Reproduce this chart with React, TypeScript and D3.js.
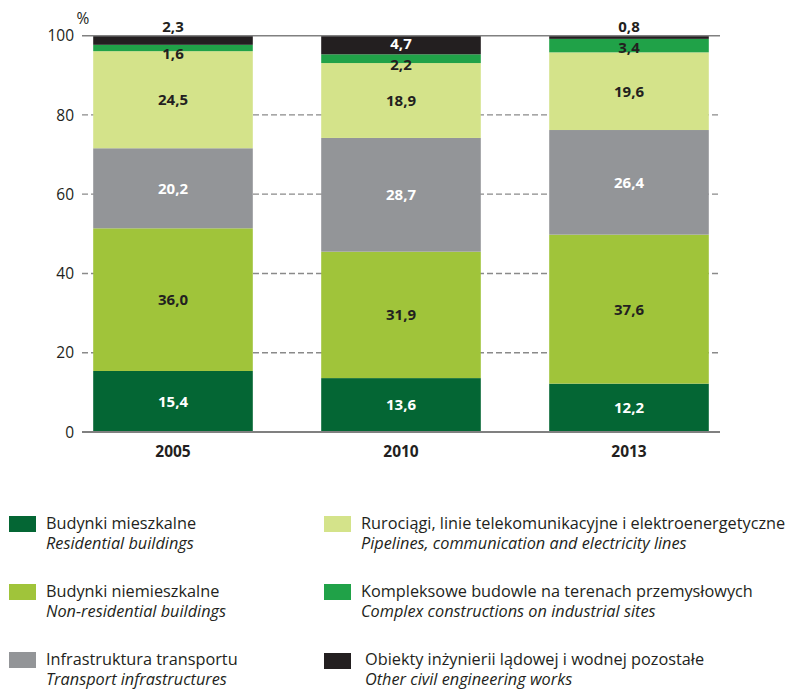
import * as d3 from 'd3';
import {useEffect, useRef} from 'react';

const width = 789;
const height = 689;

const years = ['2005', '2010', '2013'];
const residential = [15.4, 13.6, 12.2];
const nonResidential = [36.0, 31.9, 37.6];
const transport = [20.2, 28.7, 26.4];
const pipelines = [24.5, 18.9, 19.6];
const industrial = [1.6, 2.2, 3.4];
const otherWorks = [2.3, 4.7, 0.8];
const yTicks = [0, 20, 40, 60, 80, 100];

const namesPl = [
  'Budynki mieszkalne',
  'Budynki niemieszkalne',
  'Infrastruktura transportu',
  'Rurociągi, linie telekomunikacyjne i elektroenergetyczne',
  'Kompleksowe budowle na terenach przemysłowych',
  'Obiekty inżynierii lądowej i wodnej pozostałe',
];
const namesEn = [
  'Residential buildings',
  'Non-residential buildings',
  'Transport infrastructures',
  'Pipelines, communication and electricity lines',
  'Complex constructions on industrial sites',
  'Other civil engineering works',
];
const colors = ['#046634', '#a0c43a', '#939598', '#d4e38a', '#20a248', '#231f20'];
const labelColors = ['#ffffff', '#231f20', '#ffffff', '#231f20', '#231f20', '#ffffff'];

const font = '"Open Sans", sans-serif';
const dark = '#231f20';

function Chart() {
  const ref = useRef<HTMLDivElement>(null);

  useEffect(() => {
    const series = [residential, nonResidential, transport, pipelines, industrial, otherWorks];

    const x = d3.scaleBand().domain(years).range([59, 743]).paddingInner(0.3).paddingOuter(0.15);
    const y = d3.scaleLinear().domain([0, 100]).range([432, 35.7]);
    const gridLeft = 82;
    const gridRight = 720;

    const svg = d3
      .select(ref.current)
      .append('svg')
      .attr('width', width)
      .attr('height', height)
      .style('position', 'absolute')
      .style('left', '0px')
      .style('top', '0px')
      .style('background', '#ffffff');

    // dashed grid
    svg
      .append('g')
      .selectAll('line')
      .data(yTicks.filter(t => t > 0 && t < 100))
      .join('line')
      .attr('x1', gridLeft)
      .attr('x2', gridRight)
      .attr('y1', d => y(d))
      .attr('y2', d => y(d))
      .attr('stroke', '#8a8a8a')
      .attr('stroke-width', 1.3)
      .attr('stroke-dasharray', '6,3');

    // stacked bars
    const grp = svg.append('g');
    const labels = svg.append('g');
    years.forEach((yr, i) => {
      let base = 0;
      series.forEach((s, k) => {
        const v = s[i];
        const y0 = base;
        const y1 = base + v;
        base = y1;
        grp
          .append('rect')
          .attr('x', x(yr)!)
          .attr('width', x.bandwidth())
          .attr('y', y(y1))
          .attr('height', y(y0) - y(y1))
          .attr('fill', colors[k]);

        const h = y(y0) - y(y1);
        let ty = (y(y0) + y(y1)) / 2;
        let fill = labelColors[k];
        if (k === series.length - 1 && h < 12) {
          ty = y(100) - 9.5;
          fill = dark;
        } else if (h < 10) {
          ty += 5.5;
          fill = dark;
        } else if (h < 15) {
          ty += 2;
        } else if (k === series.length - 1) {
          ty -= 1;
        }
        labels
          .append('text')
          .attr('x', x(yr)! + x.bandwidth() / 2)
          .attr('y', ty)
          .attr('dy', '0.36em')
          .attr('text-anchor', 'middle')
          .attr('font-family', font)
          .attr('font-weight', 700)
          .attr('font-size', 15)
          .attr('fill', fill)
          .text(d3.format('.1f')(v).replace('.', ','));
      });
    });

    // solid lines at 100 and 0
    svg
      .append('line')
      .attr('x1', gridLeft)
      .attr('x2', gridRight)
      .attr('y1', y(100))
      .attr('y2', y(100))
      .attr('stroke', '#808080')
      .attr('stroke-width', 1.5);
    svg
      .append('line')
      .attr('x1', gridLeft)
      .attr('x2', gridRight)
      .attr('y1', y(0))
      .attr('y2', y(0))
      .attr('stroke', '#808080')
      .attr('stroke-width', 2);
    labels.raise();

    // y tick labels
    svg
      .append('g')
      .selectAll('text')
      .data(yTicks)
      .join('text')
      .attr('x', 74)
      .attr('y', d => y(d))
      .attr('dy', '0.36em')
      .attr('text-anchor', 'end')
      .attr('font-family', font)
      .attr('font-size', 15.5)
      .attr('fill', dark)
      .text(d => d);

    svg
      .append('text')
      .attr('x', 83)
      .attr('y', 18)
      .attr('dy', '0.36em')
      .attr('text-anchor', 'middle')
      .attr('font-family', font)
      .attr('font-size', 15.5)
      .attr('fill', dark)
      .text('%');

    // x labels
    svg
      .append('g')
      .selectAll('text')
      .data(years)
      .join('text')
      .attr('x', d => x(d)! + x.bandwidth() / 2)
      .attr('y', 451)
      .attr('dy', '0.36em')
      .attr('text-anchor', 'middle')
      .attr('font-family', font)
      .attr('font-weight', 700)
      .attr('font-size', 15.5)
      .attr('fill', dark)
      .text(d => d);

    // legend
    const leg = svg.append('g');
    namesPl.forEach((name, k) => {
      const col = Math.floor(k / 3);
      const row = k % 3;
      const lx = col === 0 ? 9 : 324;
      const ly = 516 + row * 68;
      const tx = lx + (k === 5 ? 41 : 37);
      leg
        .append('rect')
        .attr('x', lx)
        .attr('y', ly + (k === 5 ? 1 : 0))
        .attr('width', 27)
        .attr('height', 16)
        .attr('fill', colors[k]);
      leg
        .append('text')
        .attr('x', tx)
        .attr('y', ly + 13)
        .attr('font-family', font)
        .attr('font-size', 16.3)
        .attr('fill', dark)
        .text(name);
      leg
        .append('text')
        .attr('x', tx)
        .attr('y', ly + 33)
        .attr('font-family', font)
        .attr('font-style', 'italic')
        .attr('font-size', 16.3)
        .attr('fill', dark)
        .text(namesEn[k]);
    });

    return () => {
      svg.remove();
    };
  }, []);

  return <div ref={ref}></div>;
}

export default function App() {
  return <Chart />;
}
